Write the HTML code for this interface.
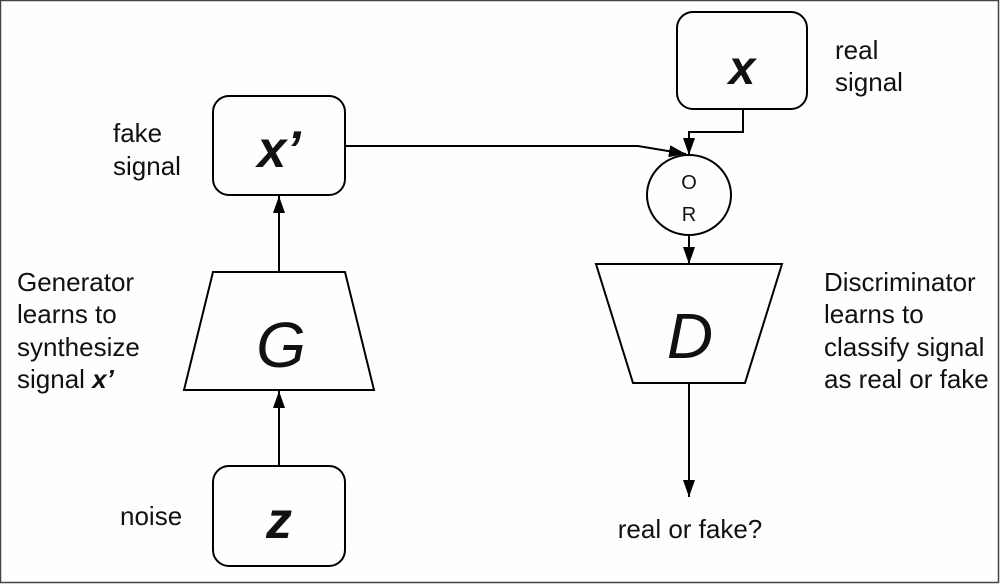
<!DOCTYPE html>
<html><head><style>
html,body{margin:0;padding:0;background:#fff}
svg{display:block}
text{font-family:"Liberation Sans",sans-serif;fill:#111}
</style></head><body>
<svg width="1000" height="584" viewBox="0 0 1000 584" xmlns="http://www.w3.org/2000/svg">
<defs>
<marker id="a" markerWidth="18" markerHeight="14" refX="17" refY="6" orient="auto" markerUnits="userSpaceOnUse">
<path d="M0,0 L17,6 L0,12 Z" fill="#000"/>
</marker>
</defs>
<rect x="0.5" y="0.5" width="998" height="582" fill="#fefefe" stroke="#444" stroke-width="1.5"/>
<g fill="none" stroke="#000" stroke-width="2">
<rect x="677" y="12" width="130" height="97" rx="16"/>
<rect x="213" y="96" width="132" height="99" rx="16"/>
<rect x="213" y="466" width="132" height="100" rx="16"/>
<path d="M213,272 L345,272 L374,390 L184,390 Z"/>
<path d="M596,264 L782,264 L745,383 L633,383 Z"/>
<ellipse cx="689" cy="195" rx="42" ry="40"/>
<path d="M279,466 L279,391" marker-end="url(#a)"/>
<path d="M279,272 L279,196" marker-end="url(#a)"/>
<path d="M345,146 L638,146 L686,154" marker-end="url(#a)"/>
<path d="M743,109 L743,132 L689,132 L689,155" marker-end="url(#a)"/>
<path d="M689,235 L689,264" marker-end="url(#a)"/>
<path d="M689,383 L689,497" marker-end="url(#a)"/>
</g>
<text x="742" y="84" font-size="48" font-weight="bold" font-style="italic" text-anchor="middle">x</text>
<text x="279" y="167" font-size="52" font-weight="bold" font-style="italic" text-anchor="middle">x’</text>
<text x="279" y="538" font-size="52" font-weight="bold" font-style="italic" text-anchor="middle">z</text>
<text x="281" y="367" font-size="64" font-style="italic" text-anchor="middle" font-family="DejaVu Sans, sans-serif">G</text>
<text x="690" y="358" font-size="64" font-style="italic" text-anchor="middle" font-family="DejaVu Sans, sans-serif">D</text>
<text x="689" y="189" font-size="20" text-anchor="middle">O</text>
<text x="689" y="221" font-size="20" text-anchor="middle">R</text>
<g font-size="26">
<text x="835" y="59">real</text>
<text x="835" y="91">signal</text>
<text x="113" y="142">fake</text>
<text x="113" y="175">signal</text>
<text x="17" y="291">Generator</text>
<text x="17" y="323">learns to</text>
<text x="17" y="356">synthesize</text>
<text x="17" y="388">signal <tspan font-weight="bold" font-style="italic">x’</tspan></text>
<text x="824" y="291">Discriminator</text>
<text x="824" y="323">learns to</text>
<text x="824" y="356">classify signal</text>
<text x="824" y="388">as real or fake</text>
<text x="120" y="525">noise</text>
<text x="690" y="538" text-anchor="middle">real or fake?</text>
</g>
</svg>
</body></html>
